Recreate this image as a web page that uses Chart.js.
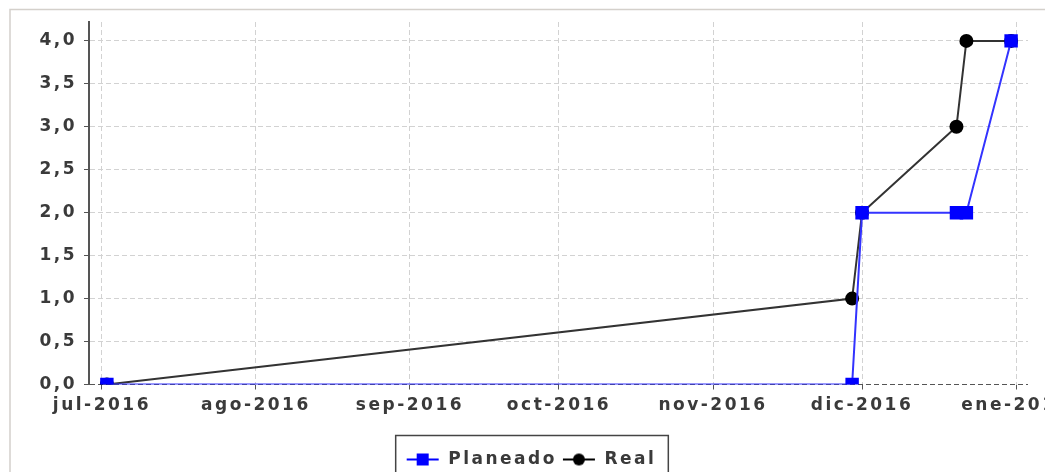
<!DOCTYPE html>
<html>
<head>
<meta charset="utf-8">
<script src="https://cdn.jsdelivr.net/npm/chart.js@4.4.1/dist/chart.umd.min.js"></script>
<style>
  html, body { margin: 0; padding: 0; background: #fff; overflow: hidden; }
  canvas { display: block; }
</style>
</head>
<body>
<canvas id="grafico" width="1062" height="490"></canvas>
<script>
// Avance planeado vs real (fechas)
const fechasPlaneado = ["2016-07-02", "2016-11-29", "2016-12-01", "2016-12-20", "2016-12-22", "2016-12-31"];
const valoresPlaneado = [0, 0, 2, 2, 2, 4];
const fechasReal = ["2016-07-02", "2016-11-29", "2016-12-01", "2016-12-20", "2016-12-22", "2016-12-31"];
const valoresReal = [0, 1, 2, 3, 4, 4];

// marcas del eje X (inicio de cada mes) y del eje Y
const fechasMes = ["2016-07-01", "2016-08-01", "2016-09-01", "2016-10-01", "2016-11-01", "2016-12-01", "2017-01-01"];
const etiquetasMes = ["jul-2016", "ago-2016", "sep-2016", "oct-2016", "nov-2016", "dic-2016", "ene-2017"];
const ticksY = [0, 0.5, 1, 1.5, 2, 2.5, 3, 3.5, 4];

const ORIGEN = Date.UTC(2016, 6, 1);
const ESPACIO = "2.5px";

// días desde el 1 de julio de 2016
function dia(fecha) {
    const [a, m, d] = fecha.split("-").map(Number);
    return (Date.UTC(a, m - 1, d) - ORIGEN) / 86400000;
}

function puntos(fechas, valores) {
    return fechas.map((f, i) => ({ x: dia(f), y: valores[i] }));
}

// símbolo de leyenda: línea con el marcador en medio
function simbolo(color, forma) {
    const c = document.createElement("canvas");
    c.width = 34;
    c.height = 14;
    const g = c.getContext("2d");
    g.strokeStyle = color;
    g.fillStyle = color;
    g.lineWidth = 2;
    g.beginPath();
    g.moveTo(1, 7);
    g.lineTo(33, 7);
    g.stroke();
    if (forma === "rect") {
        g.fillRect(11, 1, 12, 12);
    } else {
        g.beginPath();
        g.arc(17, 7, 6, 0, Math.PI * 2);
        g.fill();
    }
    return c;
}

const simbolos = [simbolo("#0000ff", "rect"), simbolo("#000000", "circle")];

Chart.defaults.font.family = "'DejaVu Sans', sans-serif";
Chart.defaults.font.size = 17;
Chart.defaults.font.weight = "bold";
Chart.defaults.color = "#3a3a3a";

// el texto original tiene las letras muy separadas
const espaciado = {
    id: "espaciado",
    afterInit(chart) { chart.ctx.letterSpacing = ESPACIO; },
    beforeUpdate(chart) { chart.ctx.letterSpacing = ESPACIO; },
    beforeDraw(chart) { chart.ctx.letterSpacing = ESPACIO; },
};

// marco gris del panel y recuadro de la leyenda
const marco = {
    id: "marco",
    beforeDraw(chart) {
        const ctx = chart.ctx;
        ctx.save();
        ctx.fillStyle = "#fff";
        ctx.fillRect(0, 0, chart.width, chart.height);
        ctx.strokeStyle = "#d4d0cb";
        ctx.lineWidth = 1.5;
        ctx.strokeRect(10, 9.5, 1041.5, 520);
        ctx.restore();
    },
    afterDraw(chart) {
        const cajas = chart.legend.legendHitBoxes;
        if (!cajas || !cajas.length) {
            return;
        }
        const ultima = cajas[cajas.length - 1];
        const izq = cajas[0].left - 10;
        const der = ultima.left + ultima.width + 12;
        const ctx = chart.ctx;
        ctx.save();
        ctx.strokeStyle = "#444";
        ctx.lineWidth = 1.5;
        ctx.strokeRect(izq, 435.5, der - izq, 80);
        ctx.restore();
    },
};

new Chart(document.getElementById("grafico"), {
    type: "line",
    data: {
        datasets: [
            {
                label: "Planeado",
                data: puntos(fechasPlaneado, valoresPlaneado),
                borderColor: "#3333ff",
                backgroundColor: "#0000ff",
                borderWidth: 2,
                tension: 0,
                pointStyle: "rect",
                pointRadius: 9.5,
                pointBorderWidth: 0,
                pointBackgroundColor: "#0000ff",
            },
            {
                label: "Real",
                data: puntos(fechasReal, valoresReal),
                borderColor: "#333",
                backgroundColor: "#000",
                borderWidth: 2,
                tension: 0,
                pointStyle: "circle",
                pointRadius: 7,
                pointBorderWidth: 0,
                pointBackgroundColor: "#000",
            },
        ],
    },
    options: {
        responsive: false,
        animation: false,
        layout: { padding: { left: 34, right: 34, top: 22, bottom: 12 } },
        plugins: {
            tooltip: { enabled: false },
            legend: {
                position: "bottom",
                labels: {
                    usePointStyle: true,
                    pointStyleWidth: 34,
                    padding: 5,
                    generateLabels: (chart) => {
                        const items = Chart.defaults.plugins.legend.labels.generateLabels(chart);
                        items.forEach((it, i) => { it.pointStyle = simbolos[i]; });
                        return items;
                    },
                },
            },
        },
        scales: {
            x: {
                type: "linear",
                min: -2.6,
                max: 186.4,
                afterBuildTicks: (s) => { s.ticks = fechasMes.map((f) => ({ value: dia(f) })); },
                afterFit: (s) => {
                    s.height = 61.5;
                    s.paddingLeft = 0;
                    s.paddingRight = 0;
                },
                ticks: {
                    autoSkip: false,
                    maxRotation: 0,
                    padding: 6,
                    callback: (v, i) => etiquetasMes[i],
                },
                grid: { color: "#d2d2d2", tickColor: "#555", tickLength: 5, lineWidth: 1 },
                border: { display: false, dash: [5, 3] },
            },
            y: {
                min: 0,
                max: 4.22,
                afterBuildTicks: (s) => { s.ticks = ticksY.map((v) => ({ value: v })); },
                afterFit: (s) => {
                    s.width = 55;
                    s.paddingTop = 0;
                    s.paddingBottom = 0;
                },
                ticks: {
                    padding: 7,
                    callback: (v) => v.toFixed(1).replace(".", ","),
                },
                grid: {
                    color: (c) => (c.tick && c.tick.value === 0 ? "#555" : "#d2d2d2"),
                    tickColor: "#555",
                    tickLength: 5,
                    lineWidth: 1,
                },
                border: { display: true, color: "#555", width: 2, dash: [5, 3] },
            },
        },
    },
    plugins: [espaciado, marco],
});
</script>
</body>
</html>
